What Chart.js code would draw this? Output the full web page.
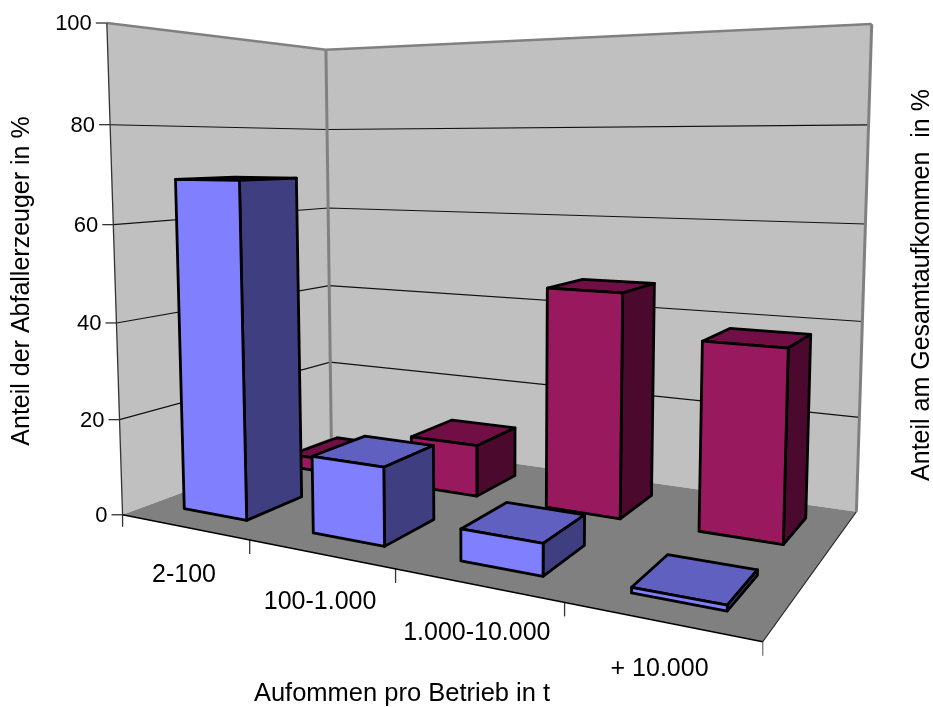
<!DOCTYPE html>
<html><head><meta charset="utf-8">
<style>html,body{margin:0;padding:0;background:#fff}canvas{display:block}</style>
<script src="https://cdn.jsdelivr.net/npm/chart.js@4"></script>
</head><body><canvas id="c" width="933" height="707"></canvas>
<script>
const categories = ['2-100','100-1.000','1.000-10.000','+ 10.000'];
const erzeuger = [69,15.4,6,1];
const aufkommen = [3,11.2,46.5,38];
const valueTicks = [0,20,40,60,80,100];
const yTitle = 'Anteil der Abfallerzeuger in %';
const y2Title = 'Anteil am Gesamtaufkommen  in %';
const xTitle = 'Aufommen pro Betrieb in t';

// Camera: (category position, depth, height fraction) -> page, solved by least squares.
const camera = [
 [0,0,0,123,516],[4,0,0,763,640],[0,2,0,331,436],[4,2,0,857,513],
 [0,0,1,107,22],[0,2,1,326,50],[4,2,1,872,24],
 [1,0,0,250,541],[2,0,0,395,569],[3,0,0,564,602],
 [0,0,.8,110,125],[0,2,.8,327,130],[4,2,.8,868,125]
];
function solveCamera(){
  const A=[],b=[];
  camera.forEach(([u,v,w,X,Y])=>{
    A.push([u,v,w,1,0,0,0,0,-X*u,-X*v,-X*w]);b.push(X);
    A.push([0,0,0,0,u,v,w,1,-Y*u,-Y*v,-Y*w]);b.push(Y);
  });
  const n=11,M=[];
  for(let i=0;i<n;i++){M.push([]);for(let j=0;j<=n;j++){let s=0;
    for(let k=0;k<A.length;k++)s+=A[k][i]*(j<n?A[k][j]:b[k]);M[i].push(s);}}
  for(let i=0;i<n;i++){let p=i;for(let r=i+1;r<n;r++)if(Math.abs(M[r][i])>Math.abs(M[p][i]))p=r;
    [M[i],M[p]]=[M[p],M[i]];
    for(let r=0;r<n;r++){if(r===i)continue;const f=M[r][i]/M[i][i];for(let c=i;c<=n;c++)M[r][c]-=f*M[i][c];}}
  return M.map((r,i)=>r[n]/r[i]);
}
const P=solveCamera();
function project(u,v,w){
  const d=P[8]*u+P[9]*v+P[10]*w+1;
  return [(P[0]*u+P[1]*v+P[2]*w+P[3])/d,(P[4]*u+P[5]*v+P[6]*w+P[7])/d];
}
function poly(ctx,pts,fill,stroke,lw){
  ctx.beginPath();pts.forEach((p,i)=>i?ctx.lineTo(p[0],p[1]):ctx.moveTo(p[0],p[1]));ctx.closePath();
  if(fill){ctx.fillStyle=fill;ctx.fill();}
  if(stroke){ctx.strokeStyle=stroke;ctx.lineWidth=lw;ctx.lineJoin='round';ctx.stroke();}
}
function line(ctx,a,b,c,lw){ctx.beginPath();ctx.moveTo(a[0],a[1]);ctx.lineTo(b[0],b[1]);ctx.strokeStyle=c;ctx.lineWidth=lw;ctx.stroke();}

class Bar3D extends Chart.BarController{
  draw(){
    const ctx=this.chart.ctx,meta=this.getMeta(),ds=this.getDataset();
    const xs=meta.xScale,ys=meta.yScale,n=xs.ticks.length;
    const d0=meta.index+.25,d1=meta.index+.75;
    ds.data.forEach((val,i)=>{
      const c=(xs.getPixelForValue(i)-xs.left)/xs.width*n;
      const u0=c-.25,u1=c+.25,w=(ys.bottom-ys.getPixelForValue(val))/ys.height;
      poly(ctx,[project(u0,d0,w),project(u1,d0,w),project(u1,d1,w),project(u0,d1,w)],ds.topColor,'#000',2.8);
      poly(ctx,[project(u1,d0,0),project(u1,d1,0),project(u1,d1,w),project(u1,d0,w)],ds.sideColor,'#000',2.8);
      poly(ctx,[project(u0,d0,0),project(u1,d0,0),project(u1,d0,w),project(u0,d0,w)],ds.frontColor,'#000',2.8);
    });
  }
}
Bar3D.id='bar3d';Bar3D.defaults=Chart.BarController.defaults;Bar3D.overrides=Chart.BarController.overrides;
Chart.register(Bar3D);

const scene={
  id:'scene',
  beforeDraw(chart){
    const ys=chart.scales.y,xs=chart.scales.x;
    ys.getLabelItems().forEach((it,i)=>{
      const w=(ys.bottom-ys.getPixelForValue(ys.ticks[i].value))/ys.height;
      const p=project(0,0,w);
      it.options.translation=[p[0]-15,p[1]+1];
      it.options.textAlign='right';it.options.textBaseline='middle';it.textOffset=0;
    });
    xs.getLabelItems().forEach((it,i)=>{
      const p=project(i+.5,0,0);
      it.options.translation=[p[0],p[1]+48];
      it.options.textAlign='center';it.options.textBaseline='middle';it.textOffset=0;
    });
  },
  beforeDatasetsDraw(chart){
    const ctx=chart.ctx,ys=chart.scales.y,n=categories.length;
    ctx.save();ctx.lineCap='butt';
    const p=project;
    poly(ctx,[p(0,0,0),p(0,2,0),p(0,2,1),p(0,0,1)],'#C0C0C0');
    poly(ctx,[p(0,2,0),p(n,2,0),p(n,2,1),p(0,2,1)],'#C0C0C0');
    poly(ctx,[p(0,0,0),p(n,0,0),p(n,2,0),p(0,2,0)],'#808080');
    ys.ticks.forEach(t=>{
      const w=(ys.bottom-ys.getPixelForValue(t.value))/ys.height;
      const a=p(0,0,w);
      line(ctx,[a[0]-11,a[1]],a,'#333',1.3);
      if(t.value>0&&t.value<100){ctx.beginPath();const b=p(0,2,w),c=p(n,2,w);
        ctx.moveTo(a[0],a[1]);ctx.lineTo(b[0],b[1]);ctx.lineTo(c[0],c[1]);ctx.strokeStyle='#111';ctx.lineWidth=1.1;ctx.stroke();}
    });
    for(let i=0;i<=n;i++){const a=p(i,0,0);line(ctx,a,[a[0],a[1]+(i===0?12:14)],i===n?'#777':'#333',1.3);}
    ctx.lineJoin='round';
    line(ctx,p(0,0,1),p(0,2,1),'#808080',2.5);
    line(ctx,p(0,2,1),p(n,2,1),'#808080',2.5);
    line(ctx,p(0,2,0),p(0,2,1),'#808080',3);
    line(ctx,p(n,2,0),p(n,2,1),'#808080',3);
    line(ctx,p(0,0,0),p(0,0,1),'#333',1.3);
    line(ctx,p(0,0,0),p(n,0,0),'#000',1.5);
    line(ctx,p(n,0,0),p(n,2,0),'#222',1.2);
    ctx.restore();
  },
  afterDraw(chart){
    const ctx=chart.ctx;ctx.save();
    ctx.translate(922,285);ctx.rotate(-Math.PI/2);
    ctx.font='25px "Liberation Sans"';ctx.fillStyle='#000';ctx.textAlign='center';ctx.textBaseline='middle';
    ctx.fillText(y2Title,0,0);ctx.restore();
  }
};

new Chart(document.getElementById('c'),{
  type:'bar3d',
  data:{labels:categories,datasets:[
    {label:'Anteil der Abfallerzeuger',data:erzeuger,clip:false,frontColor:'#8080FF',sideColor:'#3E3E80',topColor:'#6060C0'},
    {label:'Anteil am Gesamtaufkommen',data:aufkommen,clip:false,frontColor:'#98195E',sideColor:'#4B0A2D',topColor:'#710E46'}
  ]},
  plugins:[scene],
  options:{
    responsive:false,animation:false,
    layout:{padding:{top:40,left:0,right:239,bottom:0}},
    plugins:{legend:{display:false},tooltip:{enabled:false}},
    scales:{
      x:{type:'category',offset:true,grid:{display:false},border:{display:false},
        ticks:{color:'#000',autoSkip:false,maxRotation:0,font:{family:'Liberation Sans',size:25}},
        title:{display:true,text:xTitle,color:'#000',padding:{top:0,bottom:0},font:{family:'Liberation Sans',size:25.5,lineHeight:1}},
        afterFit(s){s.height=185;}},
      y:{type:'linear',min:0,max:100,grid:{display:false},border:{display:false},
        afterBuildTicks(s){s.ticks=valueTicks.map(v=>({value:v}));},
        ticks:{color:'#000',font:{family:'Liberation Sans',size:22}},
        title:{display:true,text:yTitle,color:'#000',padding:{top:10,bottom:0},font:{family:'Liberation Sans',size:25,lineHeight:1}},
        afterFit(s){s.width=110;}}
    }
  }
});
</script></body></html>
